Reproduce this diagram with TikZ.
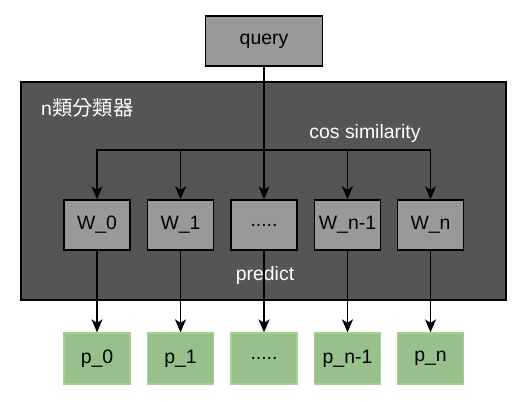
\documentclass[tikz,border=0pt]{standalone}
\usepackage{fontspec}
\setmainfont{Liberation Sans}
\newfontfamily\cjk{Noto Sans CJK TC}
\usetikzlibrary{arrows.meta}
\definecolor{qgray}{HTML}{999999}
\definecolor{dark}{HTML}{555555}
\definecolor{wgray}{HTML}{999999}
\definecolor{gfill}{HTML}{97C08D}
\definecolor{gline}{HTML}{A5D08F}
\tikzset{
  every node/.style={font=\fontsize{19.5}{21}\selectfont},
  wbox/.style={draw=black, fill=wgray, line width=1.4bp, minimum width=66bp, minimum height=50bp, inner sep=0pt},
  pbox/.style={draw=gline, fill=gfill, line width=1.3bp, minimum width=66bp, minimum height=51bp, inner sep=0pt},
  arr/.style={line width=1.4bp, -{Stealth[length=13bp,width=11bp,inset=3.5bp]}},
  lbl/.style={text=white, inner sep=0pt}
}
\begin{document}
\begin{tikzpicture}[x=1bp,y=-1bp]
\useasboundingbox (0,0) rectangle (528,401);
\node[draw=black, fill=dark, line width=1.4bp, minimum width=485bp, minimum height=218bp, inner sep=0pt] (clf) at (263.5,191) {};
\node[draw=black, fill=qgray, line width=1.4bp, minimum width=117bp, minimum height=50bp, inner sep=0pt] (query) at (264,41) {query};
\node[lbl, anchor=west] (title) at (41,108) {n{\cjk\fontsize{20.5}{22}\selectfont 類分類器}};
\node[lbl] (cos) at (365,133) {cos similarity};
\node[lbl] (pred) at (265,275) {predict};
\node[wbox] (w0) at (97,225) {W\_0};
\node[wbox] (w1) at (180.5,225) {W\_1};
\node[wbox] (wd) at (264,225) {.....};
\node[wbox] (wn1) at (347.5,225) {W\_n-1};
\node[wbox] (wn) at (430.5,225) {W\_n};
\node[pbox] (p0) at (97,358.5) {p\_0};
\node[pbox] (p1) at (180.5,358.5) {p\_1};
\node[pbox] (pd) at (264,358.5) {.....};
\node[pbox] (pn1) at (347.5,358.5) {p\_n-1};
\node[pbox] (pn) at (430.5,358.5) {p\_n};
\coordinate (split) at (264,150);
\draw[arr] (query) -- (wd);
\draw[arr] (split) -| (w0);
\draw[arr] (split) -| (w1);
\draw[arr] (split) -| (wn1);
\draw[arr] (split) -| (wn);
\draw[arr] (w0) -- (p0);
\draw[arr] (w1) -- (p1);
\draw[arr] (wd) -- (pd);
\draw[arr] (wn1) -- (pn1);
\draw[arr] (wn) -- (pn);
\end{tikzpicture}
\end{document}
